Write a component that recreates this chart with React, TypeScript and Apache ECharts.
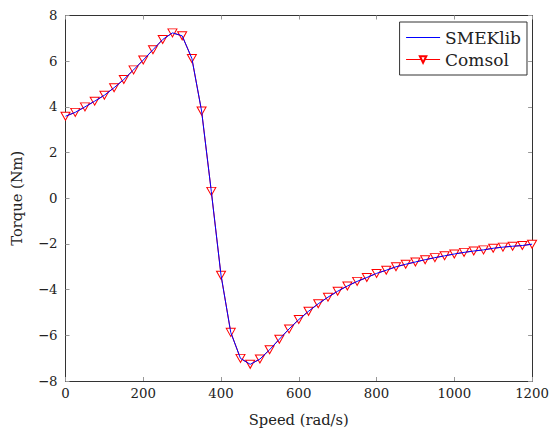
import React, { useEffect, useRef } from "react";
import * as echarts from "echarts";

const speed = [
  0, 25, 50, 75, 100, 125, 150, 175, 200, 225, 250, 275, 300, 325, 350, 375, 400,
  425, 450, 475, 500, 525, 550, 575, 600, 625, 650, 675, 700, 725, 750, 775, 800,
  825, 850, 875, 900, 925, 950, 975, 1000, 1025, 1050, 1075, 1100, 1125, 1150, 1175, 1200,
];

const smeklibTorque = [
  3.59, 3.76, 4.0, 4.25, 4.51, 4.84, 5.2, 5.62, 6.05, 6.5, 6.95, 7.24, 7.11, 6.12, 3.82, 0.3, -3.37,
  -5.87, -7.01, -7.27, -7.04, -6.63, -6.17, -5.72, -5.31, -4.95, -4.62, -4.33, -4.07, -3.84, -3.64, -3.47, -3.29,
  -3.15, -3.0, -2.89, -2.79, -2.69, -2.6, -2.52, -2.44, -2.37, -2.31, -2.26, -2.19, -2.14, -2.1, -2.07, -2.01,
];

const comsolTorque = [
  3.59, 3.76, 4.0, 4.25, 4.51, 4.84, 5.2, 5.62, 6.05, 6.5, 6.95, 7.24, 7.11, 6.12, 3.82, 0.3, -3.37,
  -5.87, -7.01, -7.27, -7.04, -6.63, -6.17, -5.72, -5.31, -4.95, -4.62, -4.33, -4.07, -3.84, -3.64, -3.47, -3.29,
  -3.15, -3.0, -2.89, -2.79, -2.69, -2.6, -2.52, -2.44, -2.37, -2.31, -2.26, -2.19, -2.14, -2.1, -2.07, -2.01,
];

const xTicks = [0, 200, 400, 600, 800, 1000, 1200];
const yTicks = [-8, -6, -4, -2, 0, 2, 4, 6, 8];

const FONT = "DejaVu Serif";

export default function App() {
  const ref = useRef<HTMLDivElement>(null);

  useEffect(() => {
    if (!ref.current) return;
    const chart = echarts.init(ref.current, undefined, { renderer: "svg" });
    const fmt = (v: number) => (v < 0 ? "\u2212" + Math.abs(v) : String(v));
    const tickStyle = { show: true, inside: true, length: 4, lineStyle: { color: "#999", width: 1 } };
    const lineStyle = { show: true, onZero: false, lineStyle: { color: "#333", width: 1 } };
    const xMin = xTicks[0];
    const xMax = xTicks[xTicks.length - 1];
    const yMin = yTicks[0];
    const yMax = yTicks[yTicks.length - 1];

    chart.setOption({
      animation: false,
      backgroundColor: "#fff",
      textStyle: { fontFamily: FONT },
      grid: { left: 65.5, right: 14.5, top: 15.5, bottom: 45.5, containLabel: false },
      legend: {
        top: 22,
        right: 25,
        orient: "vertical",
        backgroundColor: "#fff",
        borderColor: "#333",
        borderWidth: 1,
        borderRadius: 0,
        padding: [7, 6, 7, 6],
        itemGap: 5,
        itemWidth: 34,
        itemHeight: 8,
        lineStyle: { width: 1 },
        textStyle: { fontFamily: FONT, fontSize: 17, color: "#222" },
        data: [
          {
            name: "SMEKlib",
            icon: "path://M0,0L34,0L34,1.2L0,1.2Z",
            itemStyle: { color: "#0000ff", borderWidth: 0, opacity: 1 },
          },
          { name: "Comsol" },
        ],
      },
      xAxis: [
        {
          type: "value",
          min: xMin,
          max: xMax,
          interval: 200,
          position: "bottom",
          axisLine: lineStyle,
          axisTick: tickStyle,
          splitLine: { show: false },
          axisLabel: { fontFamily: FONT, fontSize: 13.3, color: "#222", margin: 6, formatter: fmt },
          name: "Speed (rad/s)",
          nameLocation: "middle",
          nameGap: 31,
          nameTextStyle: { fontFamily: FONT, fontSize: 14.7, color: "#222" },
        },
        {
          type: "value",
          min: xMin,
          max: xMax,
          interval: 200,
          position: "top",
          axisLine: lineStyle,
          axisTick: tickStyle,
          splitLine: { show: false },
          axisLabel: { show: false },
        },
      ],
      yAxis: [
        {
          type: "value",
          min: yMin,
          max: yMax,
          interval: 2,
          position: "left",
          axisLine: lineStyle,
          axisTick: tickStyle,
          splitLine: { show: false },
          axisLabel: { fontFamily: FONT, fontSize: 13.3, color: "#222", margin: 8, formatter: fmt },
          name: "Torque (Nm)",
          nameLocation: "middle",
          nameGap: 42,
          nameRotate: 90,
          nameTextStyle: { fontFamily: FONT, fontSize: 14.7, color: "#222" },
        },
        {
          type: "value",
          min: yMin,
          max: yMax,
          interval: 2,
          position: "right",
          axisLine: lineStyle,
          axisTick: tickStyle,
          splitLine: { show: false },
          axisLabel: { show: false },
        },
      ],
      series: [
        {
          name: "Comsol",
          type: "line",
          xAxisIndex: 0,
          yAxisIndex: 0,
          data: speed.map((s, i) => [s, comsolTorque[i]]),
          z: 2,
          symbol: "triangle",
          symbolRotate: 180,
          symbolSize: [9, 8],
          showAllSymbol: true,
          lineStyle: { color: "#ff0000", width: 1 },
          itemStyle: { color: "#fff", borderColor: "#ff0000", borderWidth: 1 },
        },
        {
          name: "SMEKlib",
          type: "line",
          xAxisIndex: 0,
          yAxisIndex: 0,
          data: speed.map((s, i) => [s, smeklibTorque[i]]),
          z: 3,
          symbol: "none",
          lineStyle: { color: "#0000ff", width: 1 },
          itemStyle: { color: "#0000ff" },
        },
      ],
    });
    return () => chart.dispose();
  }, []);

  return <div ref={ref} style={{ width: 552, height: 432, position: "absolute", left: 0, top: 0 }} />;
}
